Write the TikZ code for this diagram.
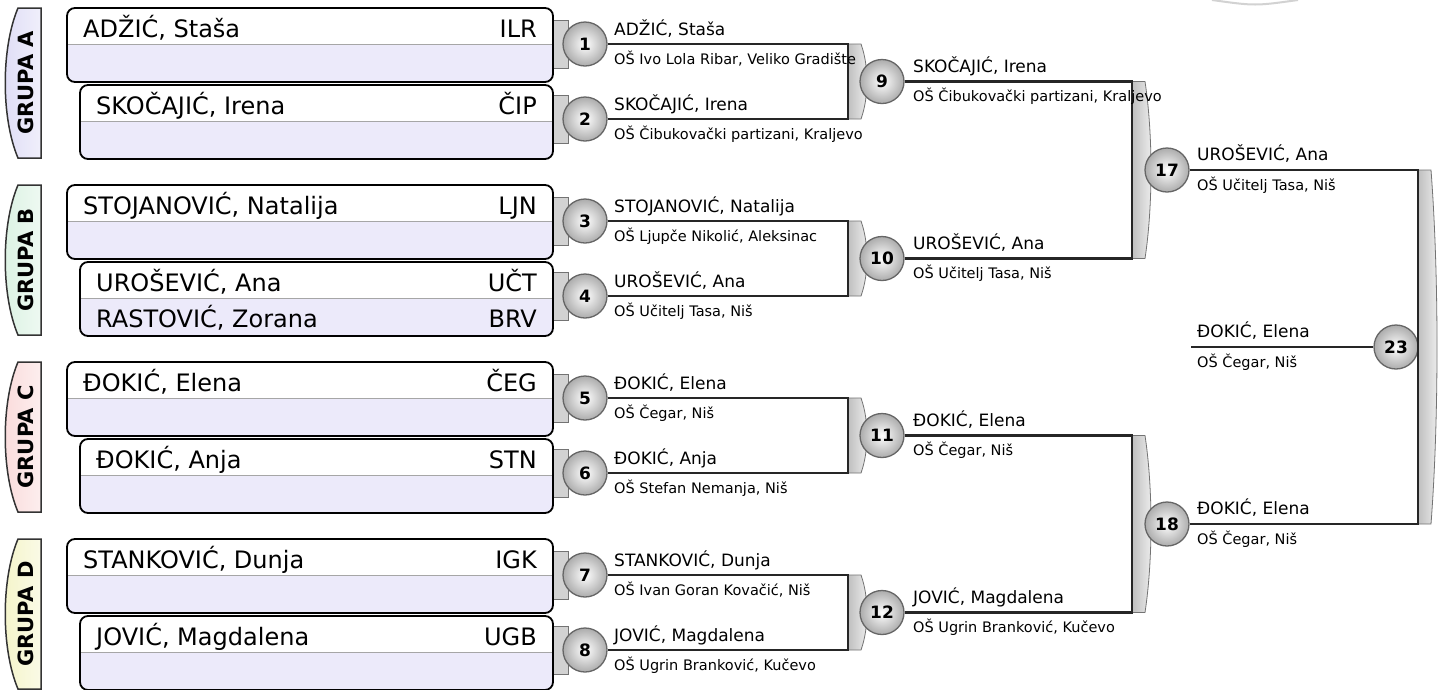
\documentclass[tikz,border=0pt]{standalone}
\usepackage{fontspec}
\setmainfont{DejaVu Sans}
\definecolor{lav}{RGB}{236,234,250}
\definecolor{grpA}{RGB}{222,220,246}
\definecolor{grpB}{RGB}{218,242,226}
\definecolor{grpC}{RGB}{250,218,218}
\definecolor{grpD}{RGB}{244,244,200}
\newcommand\playerbox[5]{% #1 id, #2 left x, #3 top y, #4 name, #5 code
  \fill[lav, rounded corners=8pt] (#2,#3) rectangle (553,#3+74);
  \begin{scope}
    \clip (#2-3,#3-3) rectangle (556,#3+36);
    \fill[white, rounded corners=8pt] (#2,#3) rectangle (553,#3+74);
  \end{scope}
  \draw[divline] (#2,#3+36) -- (553,#3+36);
  \draw[boxline, rounded corners=8pt] (#2,#3) rectangle (553,#3+74);
  \node[bigname, anchor=base west] (#1name) at (#2+16,#3+29) {#4};
  \node[bigname, anchor=base east] (#1code) at (537,#3+29) {#5};
}
\newcommand\grouptab[3]{% #1 top y, #2 letter, #3 colour
  \path[tabline, left color=#3, right color=#3!45!white] (41,#1) -- (18,#1) .. controls (1,#1+40) and (1,#1+110) .. (18,#1+150) -- (41,#1+150) -- cycle;
  \node[grpfont, rotate=90] (grp#2) at (26,#1+75) {GRUPA #2};
}
\newcommand\bracketshape[4]{% #1 name, #2 x, #3 ytop, #4 ybot
  \coordinate (#1t) at (#2,#3);
  \coordinate (#1b) at (#2,#4);
  \path[brk] (#2,#3) -- (#2+13,#3) .. controls (#2+21,{#3+0.3*(#4-#3)}) and (#2+21,{#4-0.3*(#4-#3)}) .. (#2+13,#4) -- (#2,#4) -- cycle;
}
\newcommand\stubtab[1]{\draw[stub] (553,#1-24) rectangle (568,#1+24);}
\begin{document}
\begin{tikzpicture}[x=1pt,y=-1pt,
  boxline/.style={draw=black, line width=1.8pt},
  divline/.style={draw=gray!70, line width=0.8pt},
  bigname/.style={inner sep=0pt, font=\fontsize{24}{26}\selectfont},
  nm/.style={inner sep=0pt, anchor=base west, font=\fontsize{17}{19}\selectfont},
  sch/.style={inner sep=0pt, anchor=base west, font=\fontsize{14.5}{16}\selectfont},
  ball/.style={circle, draw=black!60, line width=1.3pt, shading=radial, inner color=white, outer color=gray!65, minimum size=44pt, inner sep=0pt, font=\bfseries\fontsize{17}{19}\selectfont},
  conn/.style={draw=black!85, line width=2.2pt},
  brk/.style={draw=black!55, line width=0.8pt, left color=gray!50, right color=gray!12},
  stub/.style={draw=black!55, line width=0.8pt, fill=gray!35},
  tabline/.style={draw=black!80, line width=1.5pt},
  grpfont/.style={font=\bfseries\fontsize{21}{22}\selectfont}
]
\useasboundingbox (0,0) rectangle (1445,689);
\fill[white] (0,0) rectangle (1445,689);
\draw[gray!35, line width=2pt] (1212,0) .. controls (1255,6) .. (1298,0);

% group tabs
\grouptab{8}{A}{grpA}
\grouptab{185}{B}{grpB}
\grouptab{362}{C}{grpC}
\grouptab{539}{D}{grpD}

% stubs behind first-round circles
\stubtab{44}\stubtab{119}\stubtab{221}\stubtab{296}
\stubtab{398}\stubtab{473}\stubtab{575}\stubtab{650}

% player boxes
\playerbox{p1}{67}{8}{ADŽIĆ, Staša}{ILR}
\playerbox{p2}{80}{85}{SKOČAJIĆ, Irena}{ČIP}
\playerbox{p3}{67}{185}{STOJANOVIĆ, Natalija}{LJN}
\playerbox{p4}{80}{262}{UROŠEVIĆ, Ana}{UČT}
\node[bigname, anchor=base west] (p4bname) at (96,327) {RASTOVIĆ, Zorana};
\node[bigname, anchor=base east] (p4bcode) at (537,327) {BRV};
\playerbox{p5}{67}{362}{ĐOKIĆ, Elena}{ČEG}
\playerbox{p6}{80}{439}{ĐOKIĆ, Anja}{STN}
\playerbox{p7}{67}{539}{STANKOVIĆ, Dunja}{IGK}
\playerbox{p8}{80}{616}{JOVIĆ, Magdalena}{UGB}

% brackets
\bracketshape{k9}{848}{44}{119}
\bracketshape{k10}{848}{221}{296}
\bracketshape{k11}{848}{398}{473}
\bracketshape{k12}{848}{575}{650}
\bracketshape{k17}{1132}{81.5}{258.5}
\bracketshape{k18}{1132}{435.5}{612.5}
\bracketshape{k23}{1418}{170}{524}

% circles
\node[ball] (m1) at (585,44) {1};
\node[ball] (m2) at (585,119) {2};
\node[ball] (m3) at (585,221) {3};
\node[ball] (m4) at (585,296) {4};
\node[ball] (m5) at (585,398) {5};
\node[ball] (m6) at (585,473) {6};
\node[ball] (m7) at (585,575) {7};
\node[ball] (m8) at (585,650) {8};
\node[ball] (m9) at (882,81.5) {9};
\node[ball] (m10) at (882,258.5) {10};
\node[ball] (m11) at (882,435.5) {11};
\node[ball] (m12) at (882,612.5) {12};
\node[ball] (m17) at (1167,170) {17};
\node[ball] (m18) at (1167,524) {18};
\node[ball] (m23) at (1396,347) {23};
\coordinate (fin) at (1191,347);

% connectors
\draw[conn] (m1) -- (k9t) -- (k9b) -- (m2);
\draw[conn] (m3) -- (k10t) -- (k10b) -- (m4);
\draw[conn] (m5) -- (k11t) -- (k11b) -- (m6);
\draw[conn] (m7) -- (k12t) -- (k12b) -- (m8);
\draw[conn] (m9) -- (k17t) -- (k17b) -- (m10);
\draw[conn] (m11) -- (k18t) -- (k18b) -- (m12);
\draw[conn] (m17) -- (k23t) -- (k23b) -- (m18);
\draw[conn] (fin) -- (m23);

% labels round 1
\node[nm] (l1n) at (614,35) {ADŽIĆ, Staša};
\node[sch] (l1s) at (614,64) {OŠ Ivo Lola Ribar, Veliko Gradište};
\node[nm] (l2n) at (614,110) {SKOČAJIĆ, Irena};
\node[sch] (l2s) at (614,139) {OŠ Čibukovački partizani, Kraljevo};
\node[nm] (l3n) at (614,212) {STOJANOVIĆ, Natalija};
\node[sch] (l3s) at (614,241) {OŠ Ljupče Nikolić, Aleksinac};
\node[nm] (l4n) at (614,287) {UROŠEVIĆ, Ana};
\node[sch] (l4s) at (614,316) {OŠ Učitelj Tasa, Niš};
\node[nm] (l5n) at (614,389) {ĐOKIĆ, Elena};
\node[sch] (l5s) at (614,418) {OŠ Čegar, Niš};
\node[nm] (l6n) at (614,464) {ĐOKIĆ, Anja};
\node[sch] (l6s) at (614,493) {OŠ Stefan Nemanja, Niš};
\node[nm] (l7n) at (614,566) {STANKOVIĆ, Dunja};
\node[sch] (l7s) at (614,595) {OŠ Ivan Goran Kovačić, Niš};
\node[nm] (l8n) at (614,641) {JOVIĆ, Magdalena};
\node[sch] (l8s) at (614,670) {OŠ Ugrin Branković, Kučevo};

% labels round 2
\node[nm] (l9n) at (913,72.5) {SKOČAJIĆ, Irena};
\node[sch] (l9s) at (913,101.5) {OŠ Čibukovački partizani, Kraljevo};
\node[nm] (l10n) at (913,249.5) {UROŠEVIĆ, Ana};
\node[sch] (l10s) at (913,278.5) {OŠ Učitelj Tasa, Niš};
\node[nm] (l11n) at (913,426.5) {ĐOKIĆ, Elena};
\node[sch] (l11s) at (913,455.5) {OŠ Čegar, Niš};
\node[nm] (l12n) at (913,603.5) {JOVIĆ, Magdalena};
\node[sch] (l12s) at (913,632.5) {OŠ Ugrin Branković, Kučevo};

% labels round 3 and final
\node[nm] (l17n) at (1197,160) {UROŠEVIĆ, Ana};
\node[sch] (l17s) at (1197,190) {OŠ Učitelj Tasa, Niš};
\node[nm] (l18n) at (1197,514) {ĐOKIĆ, Elena};
\node[sch] (l18s) at (1197,544) {OŠ Čegar, Niš};
\node[nm] (l23n) at (1197,337) {ĐOKIĆ, Elena};
\node[sch] (l23s) at (1197,367) {OŠ Čegar, Niš};
\end{tikzpicture}
\end{document}
